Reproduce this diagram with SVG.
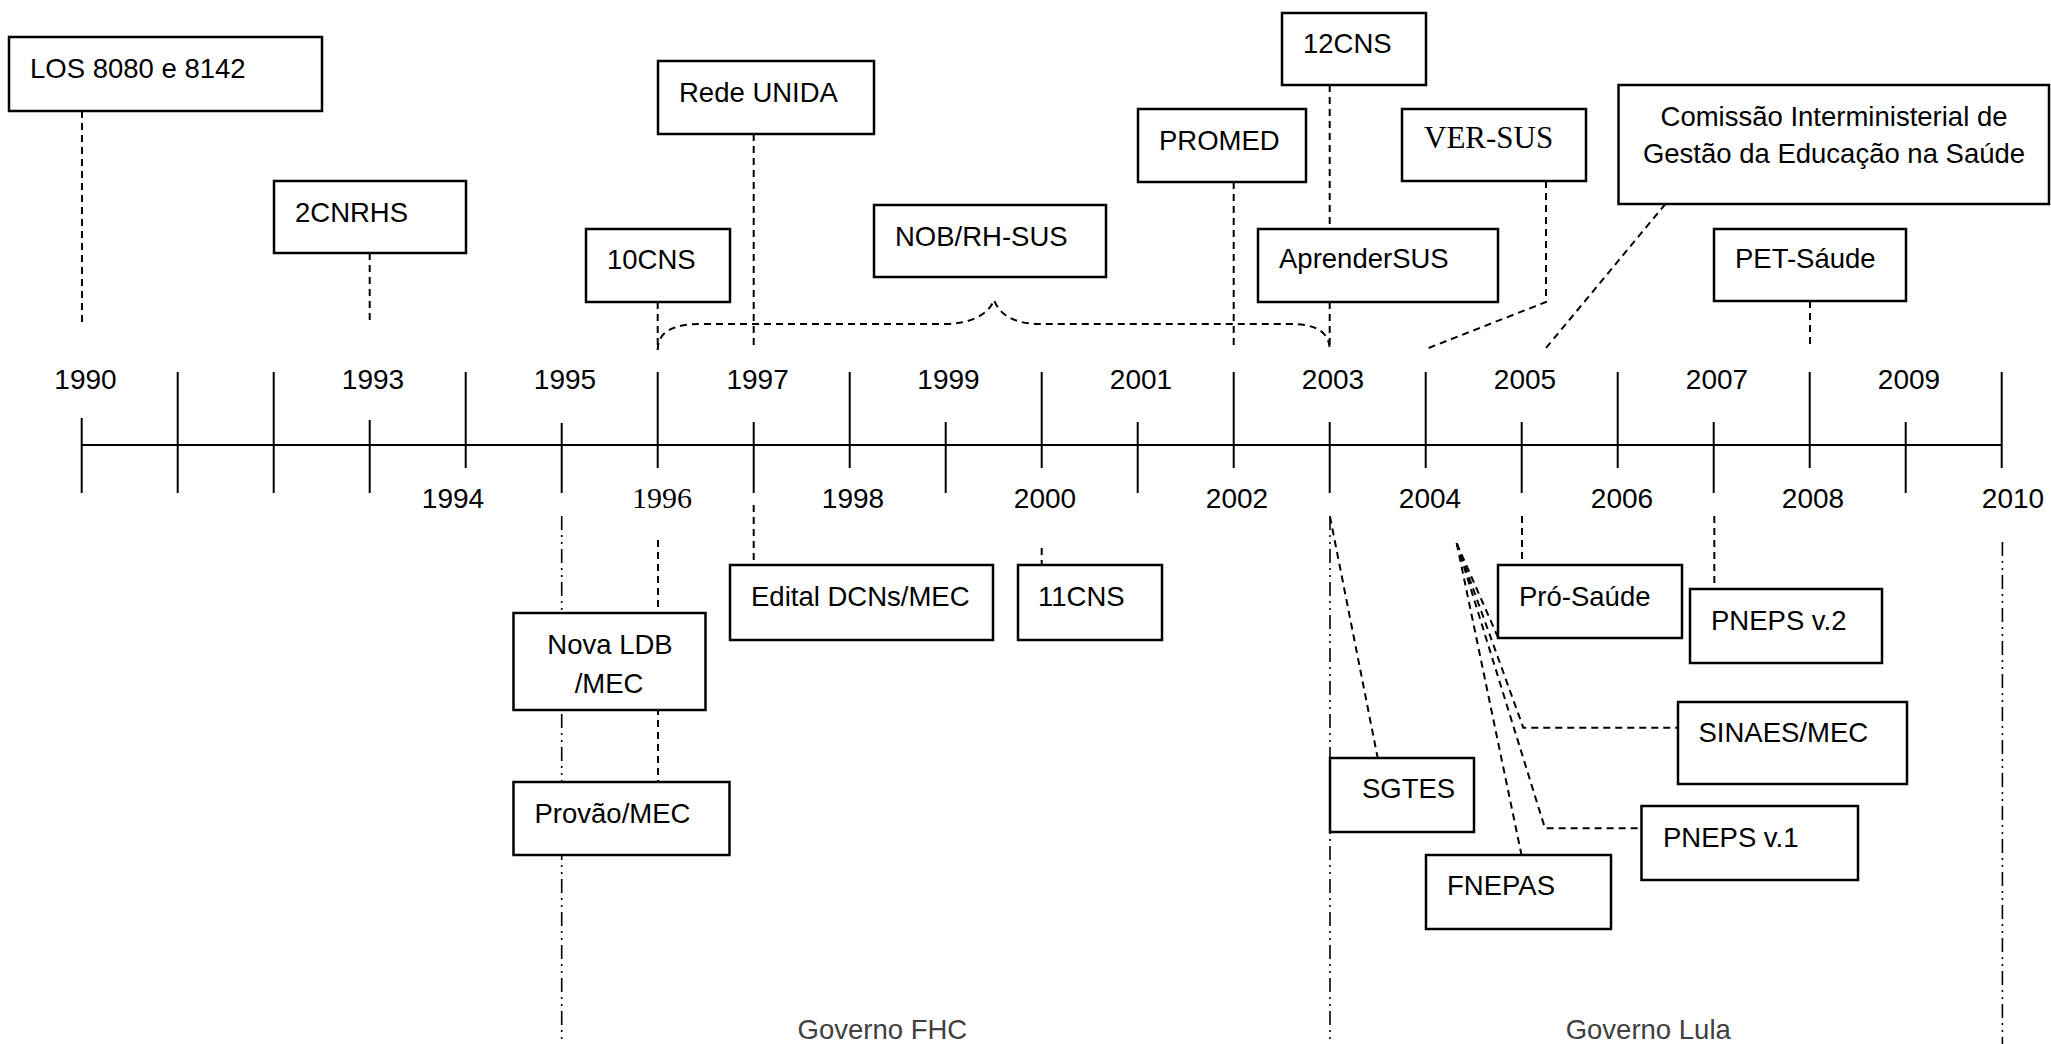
<svg xmlns="http://www.w3.org/2000/svg" width="2051" height="1044" viewBox="0 0 2051 1044">
<style>
.box{fill:#fff;stroke:#000;stroke-width:2.5}
.t{font-family:"Liberation Sans",Arial,sans-serif;font-size:27.5px;fill:#000}
.yr{font-family:"Liberation Sans",Arial,sans-serif;font-size:28px;fill:#000;text-anchor:middle}
.serif{font-family:"Liberation Serif","Times New Roman",serif}
.mid{text-anchor:middle}
.gov{fill:#404040}
.dash{stroke:#000;stroke-width:2;stroke-dasharray:7 5;fill:none}
.dd{stroke:#000;stroke-width:1.6;stroke-dasharray:14 5 2 5 2 5;fill:none}
.tick{stroke:#000;stroke-width:2;fill:none}
</style>
<rect width="2051" height="1044" fill="#fff"/>

<g id="axis">
<line class="tick" x1="81.7" y1="445" x2="2002" y2="445"/>
<line class="tick" x1="81.7" y1="418" x2="81.7" y2="493"/>
<line class="tick" x1="177.7" y1="372" x2="177.7" y2="493"/>
<line class="tick" x1="273.7" y1="372" x2="273.7" y2="493"/>
<line class="tick" x1="369.7" y1="420" x2="369.7" y2="493"/>
<line class="tick" x1="465.7" y1="372" x2="465.7" y2="468"/>
<line class="tick" x1="561.7" y1="423" x2="561.7" y2="493"/>
<line class="tick" x1="657.7" y1="372" x2="657.7" y2="468"/>
<line class="tick" x1="753.7" y1="422" x2="753.7" y2="493"/>
<line class="tick" x1="849.7" y1="372" x2="849.7" y2="468"/>
<line class="tick" x1="945.7" y1="422" x2="945.7" y2="493"/>
<line class="tick" x1="1041.7" y1="372" x2="1041.7" y2="468"/>
<line class="tick" x1="1137.7" y1="422" x2="1137.7" y2="493"/>
<line class="tick" x1="1233.7" y1="372" x2="1233.7" y2="468"/>
<line class="tick" x1="1329.7" y1="422" x2="1329.7" y2="493"/>
<line class="tick" x1="1425.7" y1="372" x2="1425.7" y2="468"/>
<line class="tick" x1="1521.7" y1="422" x2="1521.7" y2="493"/>
<line class="tick" x1="1617.7" y1="372" x2="1617.7" y2="468"/>
<line class="tick" x1="1713.7" y1="422" x2="1713.7" y2="493"/>
<line class="tick" x1="1809.7" y1="372" x2="1809.7" y2="468"/>
<line class="tick" x1="1905.7" y1="422" x2="1905.7" y2="493"/>
<line class="tick" x1="2001.7" y1="372" x2="2001.7" y2="468"/>
<text class="yr" x="85.5" y="389">1990</text>
<text class="yr" x="373" y="389">1993</text>
<text class="yr" x="565" y="389">1995</text>
<text class="yr" x="757.6" y="389">1997</text>
<text class="yr" x="948.5" y="389">1999</text>
<text class="yr" x="1141" y="389">2001</text>
<text class="yr" x="1333" y="389">2003</text>
<text class="yr" x="1525" y="389">2005</text>
<text class="yr" x="1717" y="389">2007</text>
<text class="yr" x="1909" y="389">2009</text>
<text class="yr" x="453" y="508">1994</text>
<text class="yr serif" x="662" y="508" style="font-size:30px">1996</text>
<text class="yr" x="853" y="508">1998</text>
<text class="yr" x="1045" y="508">2000</text>
<text class="yr" x="1237" y="508">2002</text>
<text class="yr" x="1430" y="508">2004</text>
<text class="yr" x="1622" y="508">2006</text>
<text class="yr" x="1813" y="508">2008</text>
<text class="yr" x="2013" y="508">2010</text>
</g>

<g id="connectors">
<line class="dash" x1="82" y1="111" x2="82" y2="325"/>
<line class="dash" x1="369.7" y1="253" x2="369.7" y2="325"/>
<line class="dash" x1="657.7" y1="302" x2="657.7" y2="350"/>
<line class="dash" x1="753.7" y1="134" x2="753.7" y2="348"/>
<path class="dash" d="M657.7,350 C657.7,332 672,324 702,324 L944,324 C968,324 988,316 994,300 C1000,316 1016,324 1040,324 L1290,324 C1316,324 1329.7,332 1329.7,350"/>
<line class="dash" x1="1233.7" y1="182" x2="1233.7" y2="348"/>
<line class="dash" x1="1329.7" y1="85" x2="1329.7" y2="229"/>
<line class="dash" x1="1329.7" y1="302" x2="1329.7" y2="348"/>
<polyline class="dash" points="1546,181 1546,302 1426,349"/>
<line class="dash" x1="1665.4" y1="204" x2="1546" y2="348"/>
<line class="dash" x1="1810" y1="301" x2="1810" y2="348"/>

<line class="dd" x1="561.7" y1="516" x2="561.7" y2="1044"/>
<line class="dash" x1="658" y1="540" x2="658" y2="782"/>
<line class="dash" x1="753.7" y1="505" x2="753.7" y2="565"/>
<line class="dash" x1="1041.7" y1="548" x2="1041.7" y2="565"/>
<line class="dd" x1="1330" y1="516" x2="1330" y2="1044"/>
<line class="dash" x1="1330" y1="516.7" x2="1377.7" y2="758"/>
<line class="dash" x1="1456.7" y1="543.3" x2="1497.7" y2="636.7"/>
<polyline class="dash" points="1456.7,543.3 1523.3,727.7 1678,727.7"/>
<polyline class="dash" points="1456.7,543.3 1545,828.3 1641.5,828.3"/>
<line class="dash" x1="1456.7" y1="543.3" x2="1521.5" y2="855"/>
<line class="dash" x1="1522" y1="516" x2="1522" y2="565"/>
<line class="dash" x1="1714.3" y1="516" x2="1714.3" y2="589"/>
<line class="dd" x1="2002.4" y1="542" x2="2002.4" y2="1044"/>
</g>

<g id="n-los"><rect class="box" x="9" y="37" width="313" height="74"/><text class="t" x="30" y="78">LOS 8080 e 8142</text></g>
<g id="n-2cnrhs"><rect class="box" x="274" y="181" width="192" height="72"/><text class="t" x="295" y="222">2CNRHS</text></g>
<g id="n-10cns"><rect class="box" x="586" y="229" width="144" height="73"/><text class="t" x="607" y="269">10CNS</text></g>
<g id="n-rede"><rect class="box" x="658" y="61" width="216" height="73"/><text class="t" x="679" y="102">Rede UNIDA</text></g>
<g id="n-nob"><rect class="box" x="874" y="205" width="232" height="72"/><text class="t" x="895" y="246">NOB/RH-SUS</text></g>
<g id="n-promed"><rect class="box" x="1138" y="109" width="168" height="73"/><text class="t" x="1159" y="150">PROMED</text></g>
<g id="n-12cns"><rect class="box" x="1282" y="13" width="144" height="72"/><text class="t" x="1303" y="53">12CNS</text></g>
<g id="n-aprender"><rect class="box" x="1258" y="229" width="240" height="73"/><text class="t" x="1279" y="268">AprenderSUS</text></g>
<g id="n-versus"><rect class="box" x="1402" y="109" width="184" height="72"/><text class="t serif" x="1424" y="148" style="font-size:31px">VER-SUS</text></g>
<g id="n-comissao"><rect class="box" x="1618.5" y="85" width="430.5" height="119"/><text class="t mid" x="1834" y="126">Comissão Interministerial de</text><text class="t mid" x="1834" y="163">Gestão da Educação na Saúde</text></g>
<g id="n-pet"><rect class="box" x="1714" y="229" width="192" height="72"/><text class="t" x="1735" y="268">PET-Sáude</text></g>

<g id="n-ldb"><rect class="box" x="513.5" y="613" width="192" height="97"/><text class="t mid" x="610" y="654">Nova LDB</text><text class="t mid" x="609" y="693">/MEC</text></g>
<g id="n-provao"><rect class="box" x="513.5" y="782" width="216" height="73"/><text class="t" x="534.5" y="823">Provão/MEC</text></g>
<g id="n-edital"><rect class="box" x="730" y="565" width="263" height="75"/><text class="t" x="751" y="606">Edital DCNs/MEC</text></g>
<g id="n-11cns"><rect class="box" x="1018" y="565" width="144" height="75"/><text class="t" x="1038" y="606">11CNS</text></g>
<g id="n-prosaude"><rect class="box" x="1498" y="565" width="184" height="73"/><text class="t" x="1519" y="606">Pró-Saúde</text></g>
<g id="n-pneps2"><rect class="box" x="1690" y="589" width="192" height="74"/><text class="t" x="1711" y="630">PNEPS v.2</text></g>
<g id="n-sinaes"><rect class="box" x="1678" y="702" width="229" height="82"/><text class="t" x="1698.5" y="742">SINAES/MEC</text></g>
<g id="n-pneps1"><rect class="box" x="1641.5" y="806" width="216.5" height="74"/><text class="t" x="1663" y="847">PNEPS v.1</text></g>
<g id="n-sgtes"><rect class="box" x="1330" y="758" width="144" height="74"/><text class="t" x="1362" y="798">SGTES</text></g>
<g id="n-fnepas"><rect class="box" x="1426" y="855" width="185" height="74"/><text class="t" x="1447" y="895">FNEPAS</text></g>

<g id="labels">
<text class="t gov" x="797.6" y="1038.7">Governo FHC</text>
<text class="t gov" x="1565.7" y="1038.7">Governo Lula</text>
</g>
</svg>
